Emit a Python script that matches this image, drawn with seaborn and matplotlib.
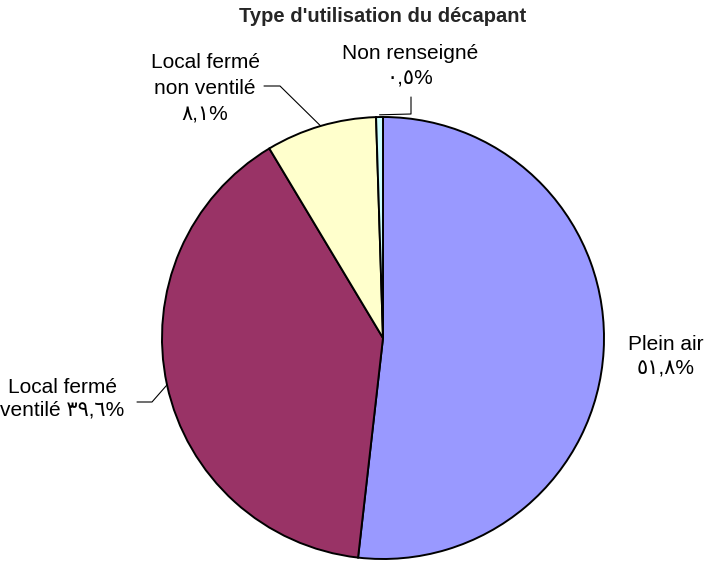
import numpy as np
import matplotlib
matplotlib.use("Agg")
import matplotlib.pyplot as plt
import seaborn as sns

# Data (clockwise from 12 o'clock)
categories = ["Plein air", "Local fermé\nventilé", "Local fermé\nnon ventilé", "Non renseigné"]
percentages = [51.8, 39.6, 8.1, 0.5]
colors = ["#9999FF", "#993366", "#FFFFCC", "#CCFFFF"]
title = "Type d'utilisation du décapant"

sns.set_theme(style="white")
plt.rcParams["font.family"] = ["Liberation Sans", "DejaVu Sans"]

ARABIC_DIGITS = str.maketrans("0123456789", "٠١٢٣٤٥٦٧٨٩")


def pct_label(v):
    return f"{v:.1f}".replace(".", ",").translate(ARABIC_DIGITS) + "%"


W, H = 709, 561
CX, CY, R = 383, 338, 221


def px(x, y):
    # pixel position in the figure -> pie data coordinates
    return (x - CX) / R, (CY - y) / R


fig = plt.figure(figsize=(W / 100, H / 100), dpi=100)
ax = fig.add_axes([(CX - R) / W, 1 - (CY + R) / H, 2 * R / W, 2 * R / H])

wedges, _ = ax.pie(
    percentages,
    colors=sns.color_palette(colors),
    startangle=90,
    counterclock=False,
    radius=1,
    wedgeprops=dict(edgecolor="black", linewidth=1.4),
)
ax.set_xlim(-1, 1)
ax.set_ylim(-1, 1)
ax.set_aspect("equal")
ax.axis("off")

# edge points at the middle of each wedge
mids = []
for w in wedges:
    a = np.deg2rad((w.theta1 + w.theta2) / 2)
    mids.append((np.cos(a), np.sin(a)))

txt = dict(ha="center", va="center", color="black", fontsize=15, clip_on=False)
line = dict(color="black", lw=0.8, clip_on=False)

# Plein air
ax.text(*px(666, 356), f"Plein air\n{pct_label(percentages[0])}", linespacing=1.3, **txt)

# Local fermé ventilé
ax.text(*px(62, 399), f"Local fermé\nventilé {pct_label(percentages[1])}", linespacing=1.25, **txt)
p1, p2 = px(152, 402), px(137, 402)
ax.plot([mids[1][0], p1[0], p2[0]], [mids[1][1], p1[1], p2[1]], **line)

# Local fermé non ventilé
ax.text(*px(205, 88), f"Local fermé\nnon ventilé\n{pct_label(percentages[2])}", linespacing=1.45, **txt)
p1, p2 = px(280, 86), px(264, 86)
ax.plot([mids[2][0], p1[0], p2[0]], [mids[2][1], p1[1], p2[1]], **line)

# Non renseigné
ax.text(*px(410, 66), f"Non renseigné\n{pct_label(percentages[3])}", linespacing=1.4, **txt)
p1, p2 = px(411, 114), px(411, 97)
ax.plot([mids[3][0], p1[0], p2[0]], [mids[3][1] + 0.01, p1[1], p2[1]], **line)

fig.text(CX / W, 1 - 17 / H, title, ha="center", va="center", fontsize=14.5, fontweight="bold")

fig.savefig("out.png", dpi=100, facecolor="white")
